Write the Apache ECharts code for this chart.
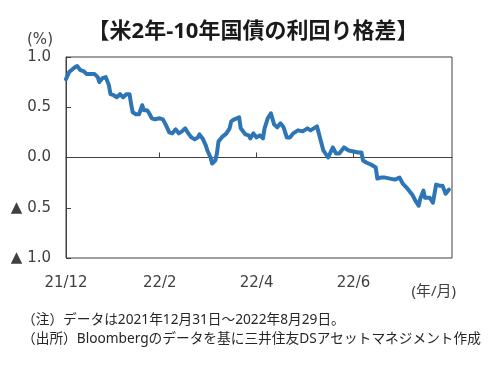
<!DOCTYPE html>
<html>
<head>
<meta charset="utf-8">
<script src="https://cdn.jsdelivr.net/npm/echarts@6/dist/echarts.min.js"></script>
<style>html,body{margin:0;padding:0;background:#fff;}#c{width:500px;height:369px;}</style>
</head>
<body>
<div id="c"></div>
<script>
// days since 2021-12-31
const days = [0,2,5,7,9,11,13,15,18,20,21,23,25,27,28,30,32,34,36,38,40,41,42,44,46,48,49,51,52,54,56,59,61,63,65,67,69,71,73,75,77,79,81,83,84,86,88,89,91,92,94,95,96,98,101,103,104,106,109,110,113,115,116,118,120,122,124,125,127,129,131,133,135,137,139,141,143,146,149,152,154,156,158,159,162,165,168,170,172,175,178,181,184,186,187,189,192,195,196,198,201,204,207,210,212,215,218,220,222,223,225,226,229,231,233,235,237,239,241];
const spread = [0.78,0.85,0.89,0.91,0.87,0.86,0.83,0.83,0.83,0.80,0.75,0.79,0.80,0.72,0.63,0.62,0.60,0.63,0.60,0.63,0.63,0.53,0.45,0.43,0.43,0.52,0.47,0.47,0.45,0.39,0.38,0.39,0.38,0.32,0.25,0.24,0.28,0.24,0.26,0.29,0.24,0.20,0.18,0.20,0.23,0.19,0.12,0.07,0.00,-0.06,-0.03,0.04,0.16,0.20,0.24,0.29,0.36,0.38,0.40,0.29,0.23,0.22,0.19,0.24,0.20,0.22,0.19,0.29,0.39,0.44,0.33,0.30,0.34,0.30,0.20,0.20,0.24,0.27,0.26,0.29,0.27,0.29,0.31,0.25,0.07,0.00,0.10,0.04,0.04,0.10,0.07,0.06,0.05,0.05,-0.03,-0.05,-0.07,-0.10,-0.21,-0.20,-0.20,-0.21,-0.22,-0.20,-0.26,-0.31,-0.37,-0.43,-0.48,-0.41,-0.33,-0.40,-0.40,-0.45,-0.27,-0.28,-0.28,-0.36,-0.32];
const tickDays = [0,59,120,181];
const tickLabels = ['21/12','22/2','22/4','22/6'];
const yTickLabels = {'1':'1.0','0.5':'0.5','0':'0.0','-0.5':'▲ 0.5','-1':'▲ 1.0'};

const FONT = '"Noto Sans", "Noto Sans CJK JP", sans-serif';
const AXFONT = '"DejaVu Sans", "Noto Sans CJK JP", sans-serif';
const chart = echarts.init(document.getElementById('c'), null, {renderer:'canvas'});
chart.setOption({
  animation: false,
  backgroundColor: '#fff',
  graphic: [
    {type: 'text', style: {text: '【米2年-10年国債の利回り格差】', x: 253, y: 32, align: 'center', verticalAlign: 'middle',
      font: 'bold 22px ' + FONT, fill: '#1a1a1a'}},
    {type: 'text', style: {text: '(%)', x: 40, y: 40, align: 'center', verticalAlign: 'middle',
      font: '15px ' + AXFONT, fill: '#404040'}},
    {type: 'text', style: {text: '(年/月)', x: 456, y: 292, align: 'right', verticalAlign: 'middle',
      font: '15px ' + FONT, fill: '#404040'}},
    {type: 'text', style: {text: '（注）データは2021年12月31日～2022年8月29日。', x: 22, y: 320, align: 'left', verticalAlign: 'middle',
      font: '13.7px ' + FONT, fill: '#262626'}},
    {type: 'text', style: {text: '（出所）Bloombergのデータを基に三井住友DSアセットマネジメント作成', x: 22, y: 339, align: 'left', verticalAlign: 'middle',
      font: '13.7px ' + FONT, fill: '#262626'}}
  ],
  grid: {left: 66, right: 48, top: 57, bottom: 111, show: true, borderColor: '#404040', borderWidth: 1},
  xAxis: {
    type: 'value', min: 0, max: 243,
    axisLine: {show: true, lineStyle: {color: '#404040'}},
    axisTick: {show: true, inside: true, length: 5, customValues: tickDays, lineStyle: {color: '#404040'}},
    axisLabel: {customValues: tickDays, margin: 18, fontFamily: AXFONT, fontSize: 15, color: '#404040',
      formatter: v => tickLabels[tickDays.indexOf(v)] || ''},
    splitLine: {show: false}
  },
  yAxis: {
    type: 'value', min: -1, max: 1, interval: 0.5,
    axisLine: {show: true, lineStyle: {color: '#404040'}},
    axisTick: {show: true, inside: true, length: 5, lineStyle: {color: '#404040'}},
    axisLabel: {margin: 15, fontFamily: AXFONT, fontSize: 15, color: '#404040',
      formatter: v => yTickLabels[String(v)]},
    splitLine: {show: false}
  },
  series: [{
    type: 'line', data: days.map((d, i) => [d, spread[i]]),
    showSymbol: false, symbol: 'none',
    lineStyle: {color: '#2E75B6', width: 4, join: 'round', cap: 'round'}
  }]
});
</script>
</body>
</html>
